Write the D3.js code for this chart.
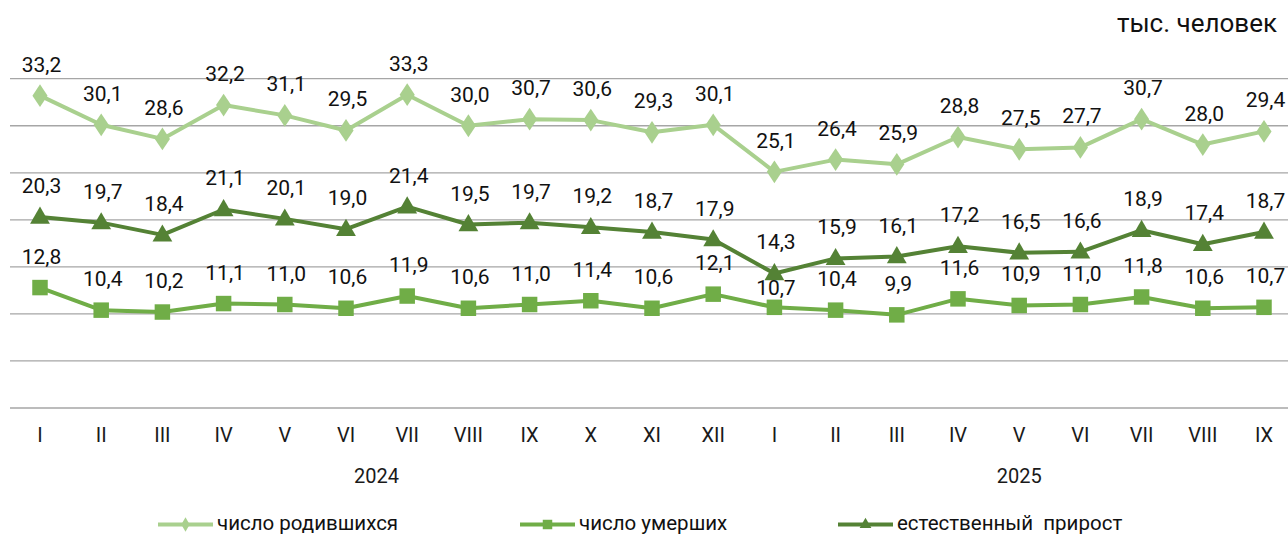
<!DOCTYPE html>
<html><head><meta charset="utf-8">
<script src="https://cdn.jsdelivr.net/npm/d3@7"></script>
<style>body{margin:0;background:#fff;}svg{display:block;font-family:Roboto,"Noto Sans",sans-serif;}</style>
</head><body><svg id="c" width="1288" height="535"></svg>
<script>
const months = ["I","II","III","IV","V","VI","VII","VIII","IX","X","XI","XII","I","II","III","IV","V","VI","VII","VIII","IX"];
const years = ["2024","2025"];
const yearSpans = [[0,11],[12,20]];
const births = [33.2,30.1,28.6,32.2,31.1,29.5,33.3,30.0,30.7,30.6,29.3,30.1,25.1,26.4,25.9,28.8,27.5,27.7,30.7,28.0,29.4];
const deaths = [12.8,10.4,10.2,11.1,11.0,10.6,11.9,10.6,11.0,11.4,10.6,12.1,10.7,10.4,9.9,11.6,10.9,11.0,11.8,10.6,10.7];
const natural = [20.3,19.7,18.4,21.1,20.1,19.0,21.4,19.5,19.7,19.2,18.7,17.9,14.3,15.9,16.1,17.2,16.5,16.6,18.9,17.4,18.7];
const yTicks = [0,5,10,15,20,25,30,35];
const seriesNames = ["число родившихся","число умерших","естественный  прирост"];
const unitLabel = "тыс. человек";

const svg = d3.select("#c");
const x = d3.scalePoint().domain(d3.range(months.length)).range([40, 1264]);
const y = d3.scaleLinear().domain([0,35]).range([408, 78.7]);
const fmt = v => v.toFixed(1).replace(".", ",");

// grid
svg.append("g").selectAll("line").data(yTicks).join("line")
  .attr("x1", 10).attr("x2", 1295)
  .attr("y1", d => y(d)).attr("y2", d => y(d))
  .attr("stroke", "#a6a6a6").attr("stroke-width", 1.3);

// month axis labels
svg.append("g").selectAll("text").data(months).join("text")
  .attr("x", (d,i) => x(i)).attr("y", 442)
  .attr("text-anchor", "middle").attr("font-size", 20).attr("fill", "#1a1a1a")
  .text(d => d);
svg.append("g").selectAll("text").data(years).join("text")
  .attr("x", (d,i) => (x(yearSpans[i][0]) + x(yearSpans[i][1]))/2).attr("y", 483)
  .attr("text-anchor", "middle").attr("font-size", 20).attr("fill", "#1a1a1a")
  .text(d => d);

svg.append("text").attr("x", 1277).attr("y", 32).attr("text-anchor", "end")
  .attr("font-size", 26).attr("fill", "#111").text(unitLabel);

const colors = ["#a9d08e", "#70ad47", "#548235"];
const series = [births, deaths, natural];
const line = d3.line().x((d,i) => x(i)).y(d => y(d));

const sym = [d3.symbolDiamond, d3.symbolSquare, d3.symbolTriangle];
const symSize = [150, 240, 170];

series.forEach((data, si) => {
  const g = svg.append("g");
  g.append("path").datum(data).attr("d", line).attr("fill", "none")
    .attr("stroke", colors[si]).attr("stroke-width", 4).attr("stroke-linejoin", "round");
  g.selectAll("path.m").data(data).join("path").attr("class","m")
    .attr("transform", (d,i) => `translate(${x(i)},${y(d) + (si===2 ? 1 : 0)})` + (si===0 ? " scale(1.15,1)" : ""))
    .attr("d", d3.symbol().type(sym[si]).size(symSize[si]))
    .attr("fill", colors[si]);
});

// data labels
series.forEach((data, si) => {
  svg.append("g").selectAll("text").data(data).join("text")
    .attr("x", (d,i) => x(i) + 1.5)
    .attr("y", (d,i) => {
      let off = 24;
      if (si === 1 && i === 12) off = 12;
      return y(d) - off;
    })
    .attr("text-anchor", "middle").attr("font-size", 21).attr("fill", "#111")
    .text(d => fmt(d));
});

// legend
const legX = [158, 520, 838];
seriesNames.forEach((n, i) => {
  const g = svg.append("g").attr("transform", `translate(${legX[i]},524.5)`);
  g.append("line").attr("x1", 0).attr("x2", 55).attr("y1", 0).attr("y2", 0)
    .attr("stroke", colors[i]).attr("stroke-width", 4);
  g.append("path").attr("transform", "translate(27.5,0)")
    .attr("d", d3.symbol().type(sym[i]).size(i===1 ? 90 : 60)).attr("fill", colors[i]);
  g.append("text").attr("x", 59).attr("y", 5.5).attr("font-size", 20.5).attr("fill", "#111")
    .style("white-space", "pre").text(n);
});
</script></body></html>
